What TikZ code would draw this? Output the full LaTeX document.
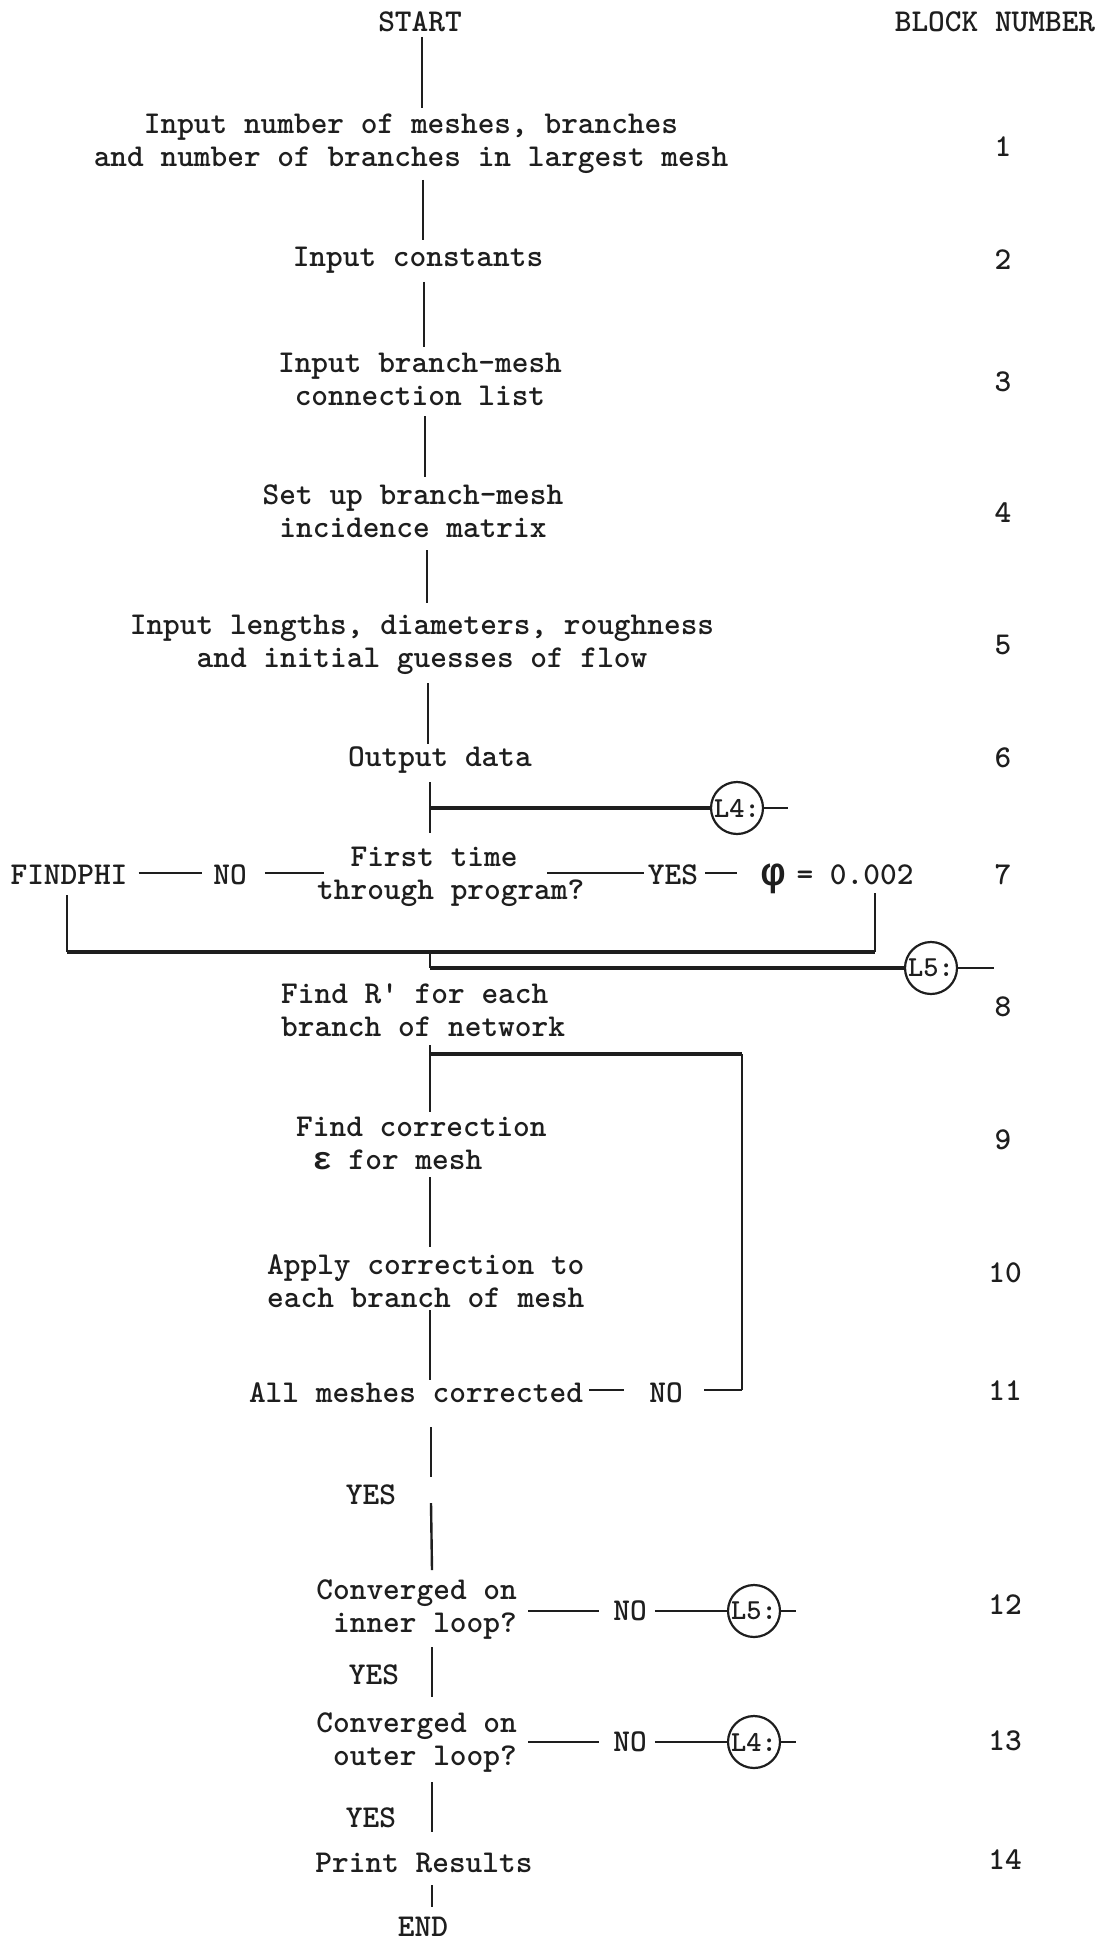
\documentclass[tikz,border=0pt]{standalone}
\usepackage{fontspec}
\newfontfamily\grk{Liberation Mono}
\definecolor{ink}{HTML}{1E1E1E}
\tikzset{
  txt/.style={inner sep=0pt, text=ink, font=\fontsize{31.8}{33}\ttfamily\bfseries},
  vline/.style={draw=ink, line width=2.4pt},
  bar/.style={draw=ink, line width=3.8pt},
  dashln/.style={draw=ink, line width=2.8pt},
  conn/.style={circle, draw=ink, line width=2.2pt, minimum size=52pt, inner sep=0pt,
               text=ink, font=\fontsize{29}{30}\ttfamily\bfseries},
}
\begin{document}
\begin{tikzpicture}[x=1pt,y=-1pt]
\useasboundingbox[fill=white] (0,0) rectangle (1106,1942);

% ---------- header ----------
\node[txt] (start) at (420,22) {START};
\node[txt] (hdr) at (995,22) {BLOCK NUMBER};

% ---------- block numbers ----------
\node[txt] (k1) at (1003,147) {1};
\node[txt] (k2) at (1003,260) {2};
\node[txt] (k3) at (1003,382) {3};
\node[txt] (k4) at (1003,513) {4};
\node[txt] (k5) at (1003,645) {5};
\node[txt] (k6) at (1003,758) {6};
\node[txt] (k7) at (1003,875) {7};
\node[txt] (k8) at (1003,1007) {8};
\node[txt] (k9) at (1003,1140) {9};
\node[txt] (k10) at (1005,1273) {10};
\node[txt] (k11) at (1005,1391) {11};
\node[txt] (k12) at (1005,1605) {12};
\node[txt] (k13) at (1005,1741) {13};
\node[txt] (k14) at (1005,1860) {14};

% ---------- blocks ----------
\node[txt, align=center] (b1) at (411,144) {Input number of meshes, branches\\and number of branches in largest mesh};
\node[txt] (b2) at (418,260) {Input constants};
\node[txt, align=center] (b3) at (420,379) {Input branch-mesh\\connection list};
\node[txt, align=center] (b4) at (413,511) {Set up branch-mesh\\incidence matrix};
\node[txt, align=center] (b5) at (422,645) {Input lengths, diameters, roughness\\and initial guesses of flow};
\node[txt] (b6) at (440,760) {Output data};

% block 7 row
\node[txt] (fp) at (69,875) {FINDPHI};
\node[txt] (no7) at (230,875) {NO};
\node[txt, align=left, anchor=west] (b7) at (317,877) {\hspace*{33.4pt}First time\\through program?};
\node[txt] (yes7) at (673,875) {YES};
\node[txt, font=\fontsize{40}{40}\grk\bfseries] (phi) at (773,879) {φ};
\node[txt] (val) at (855,875) {= 0.002};
\coordinate (d7a) at (324,873);
\coordinate (d7b) at (547,873);
\coordinate (d7c) at (737,873);

\node[txt, align=left, anchor=west] (b8) at (281,1010) {Find R\textquotesingle{} for each\\branch of network};
\node[txt, align=left, anchor=west] (b9) at (296,1143) {Find correction\\\hspace*{16.7pt}{\grk ε} for mesh};
\node[txt, align=left, anchor=west] (b10) at (267,1281) {Apply correction to\\each branch of mesh};
\node[txt] (b11) at (416,1393) {All meshes corrected};
\node[txt] (no11) at (666,1393) {NO};
\node[txt] (yes11) at (371,1495) {YES};
\node[txt, align=right, anchor=east] (b12) at (517,1610) {Converged on\\inner loop?};
\node[txt] (no12) at (630,1611) {NO};
\node[txt] (yes12) at (374,1675) {YES};
\node[txt, align=right, anchor=east] (b13) at (517,1743) {Converged on\\outer loop?};
\node[txt] (no13) at (630,1742) {NO};
\node[txt] (yes13) at (371,1818) {YES};
\node[txt] (b14) at (424,1863) {Print Results};
\node[txt] (endn) at (423,1927) {END};

% ---------- connector circles ----------
\node[conn] (cL4a) at (737,808) {L4:};
\node[conn] (cL5a) at (931,968) {L5:};
\node[conn] (cL5b) at (754,1611) {L5:};
\node[conn] (cL4b) at (754,1742) {L4:};
\coordinate (tL4a) at (788,808);
\coordinate (tL5a) at (994,968);
\coordinate (tL5b) at (796,1611);
\coordinate (tL4b) at (796,1742);

% ---------- coordinates of the main line ----------
\coordinate (v1a) at (422,37);   \coordinate (v1b) at (422,108);
\coordinate (v2a) at (423,180);  \coordinate (v2b) at (423,240);
\coordinate (v3a) at (424,282);  \coordinate (v3b) at (424,347);
\coordinate (v4a) at (425,416);  \coordinate (v4b) at (425,477);
\coordinate (v5a) at (427,550);  \coordinate (v5b) at (427,603);
\coordinate (v6a) at (428,683);  \coordinate (v6b) at (428,744);
\coordinate (v7a) at (430,782);  \coordinate (v7b) at (430,833);
\coordinate (j4) at (430,808);
\coordinate (fl1) at (67,895);   \coordinate (fl2) at (67,952);
\coordinate (fr2) at (875,952);  \coordinate (fr1) at (875,893);
\coordinate (j7) at (430,952);   \coordinate (j5) at (430,968);
\coordinate (v8a) at (430,1045); \coordinate (v8b) at (430,1112);
\coordinate (lp1) at (430,1054); \coordinate (lp2) at (742,1054);
\coordinate (lp3) at (742,1390); \coordinate (lp4) at (704,1390);
\coordinate (v9a) at (430,1177); \coordinate (v9b) at (430,1247);
\coordinate (v10a) at (430,1310); \coordinate (v10b) at (430,1380);
\coordinate (v11a) at (431,1427); \coordinate (v11b) at (431,1477);
\coordinate (v11c) at (431,1503); \coordinate (v11d) at (432,1570);
\coordinate (v12a) at (432,1647); \coordinate (v12b) at (432,1697);
\coordinate (v13a) at (432,1782); \coordinate (v13b) at (432,1832);
\coordinate (v14a) at (432,1885); \coordinate (v14b) at (432,1907);

% ---------- main vertical line ----------
\draw[vline] (v1a) -- (v1b);
\draw[vline] (v2a) -- (v2b);
\draw[vline] (v3a) -- (v3b);
\draw[vline] (v4a) -- (v4b);
\draw[vline] (v5a) -- (v5b);
\draw[vline] (v6a) -- (v6b);
\draw[vline] (v7a) -- (v7b);
\draw[bar] (j4) -- (cL4a.west);
\draw[dashln] (cL4a.east) -- (tL4a);

% block 7 row connectors
\draw[dashln] ([xshift=11pt]fp.east |- d7a) -- ([xshift=-11pt]no7.west |- d7a);
\draw[dashln] ([xshift=18pt]no7.east |- d7a) -- (d7a);
\draw[dashln] (d7b) -- ([xshift=-4pt]yes7.west |- d7b);
\draw[dashln] ([xshift=7pt]yes7.east |- d7c) -- (d7c);
\draw[vline] (fl1) -- (fl2);
\draw[bar] (fl2) -- (fr2);
\draw[vline] (fr2) -- (fr1);
\draw[vline] (j7) -- (j5);
\draw[bar] (j5) -- (cL5a.west);
\draw[dashln] (cL5a.east) -- (tL5a);

% inner loop
\draw[vline] (v8a) -- (v8b);
\draw[bar] (lp1) -- (lp2);
\draw[vline] (lp2) -- (lp3);
\draw[dashln] (lp3) -- (lp4);
\draw[vline] (v9a) -- (v9b);
\draw[vline] (v10a) -- (v10b);
\draw[dashln] ([xshift=6pt]b11.east |- lp4) -- ([xshift=-25pt]no11.west |- lp4);
\draw[vline] (v11a) -- (v11b);
\draw[vline] (v11c) -- (v11d);

% convergence tests
\draw[dashln] ([xshift=11pt]b12.east |- no12.west) -- ([xshift=-14pt]no12.west);
\draw[dashln] ([xshift=8pt]no12.east) -- (cL5b.west);
\draw[dashln] (cL5b.east) -- (tL5b);
\draw[vline] (v12a) -- (v12b);
\draw[dashln] ([xshift=11pt]b13.east |- no13.west) -- ([xshift=-14pt]no13.west);
\draw[dashln] ([xshift=8pt]no13.east) -- (cL4b.west);
\draw[dashln] (cL4b.east) -- (tL4b);
\draw[vline] (v13a) -- (v13b);
\draw[vline] (v14a) -- (v14b);
\end{tikzpicture}
\end{document}
